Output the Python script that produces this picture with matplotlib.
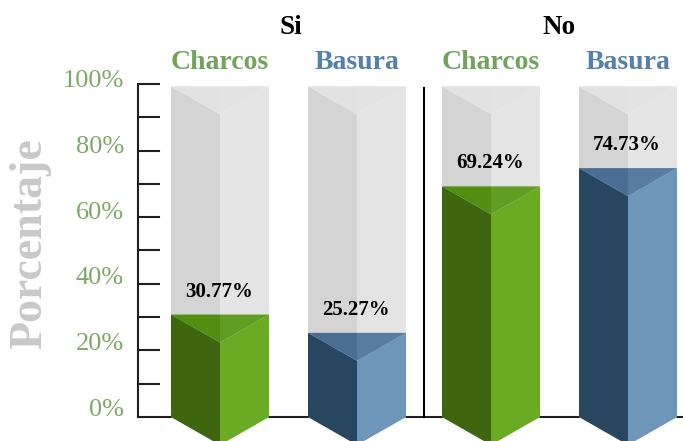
import matplotlib.pyplot as plt

plt.rcParams["font.family"] = ["Liberation Serif", "DejaVu Serif"]

groups = ["Si", "No"]
categories = ["Charcos", "Basura", "Charcos", "Basura"]
values = [30.77, 25.27, 69.24, 74.73]
tick_labels = ["0%", "20%", "40%", "60%", "80%", "100%"]
tick_values = [0, 20, 40, 60, 80, 100]
minor_ticks = [10, 30, 50, 70, 90]
full_height = 99.3

green = {"left": "#3e660f", "right": "#6bab24", "top_l": "#528f10", "top_r": "#5f9e22", "text": "#72a35a"}
blue = {"left": "#27465f", "right": "#6e95ba", "top_l": "#4a6d93", "top_r": "#587ba0", "text": "#5480ab"}
styles = [green, blue, green, blue]

# x is in pixels, y in percent
centers = [220, 357, 491, 628]
half_w = 49
depth = 8.4

fig = plt.figure(figsize=(6.83, 4.41), dpi=100)
ax = fig.add_axes([0, 0, 1, 1])
ax.set_xlim(0, 683)
ax.set_ylim(-7.2, 125.2)
ax.axis("off")


def prism(ax, cx, top, left, right, top_l, top_r, z):
    l, r = cx - half_w, cx + half_w
    ax.fill([l, cx, cx, l], [0, -depth, top - depth, top], color=left, lw=0, zorder=z)
    ax.fill([cx, r, r, cx], [-depth, 0, top, top - depth], color=right, lw=0, zorder=z)
    ax.fill([l, cx, cx], [top, top - depth, top], color=top_l, lw=0, zorder=z)
    ax.fill([cx, r, cx], [top - depth, top, top], color=top_r, lw=0, zorder=z)


# axes lines
ax.plot([138, 138], [0, 100], color="#231f20", lw=1.5, zorder=1, solid_capstyle="projecting")
ax.plot([138, 683], [0, 0], color="#231f20", lw=1.5, zorder=1)
ax.plot([424, 424], [0, 98.8], color="black", lw=1.5, zorder=1)
for t in tick_values[1:] + minor_ticks:
    ax.plot([138, 159], [t, t], color="#231f20", lw=1.5, zorder=1)

for cx, v, cat, st in zip(centers, values, categories, styles):
    prism(ax, cx, full_height, "#d4d4d4", "#e4e4e4", "#e2e2e2", "#e3e3e3", 2)
    prism(ax, cx, v, st["left"], st["right"], st["top_l"], st["top_r"], 3)
    ax.text(cx - 1, v + 6.9, f"{v:.2f}%", ha="center", va="center",
            fontsize=15, fontweight="bold", color="black", zorder=4)
    ax.text(cx, 106.3, cat, ha="center", va="center", fontsize=20,
            fontweight="bold", color=st["text"])

for t, lab in zip(tick_values, tick_labels):
    ax.text(124, 2.1 + t * 0.988, lab, ha="right", va="center", fontsize=19, color="#7fa866")

ax.text(290.5, 116.8, groups[0], ha="center", va="center", fontsize=19.5, fontweight="bold")
ax.text(559, 116.8, groups[1], ha="center", va="center", fontsize=19.5, fontweight="bold")
ax.text(30, 52, "Porcentaje", rotation=90, ha="center", va="center",
        fontsize=33, fontweight="bold", color="#c9c9c9")

plt.savefig("out.png", dpi=100)
